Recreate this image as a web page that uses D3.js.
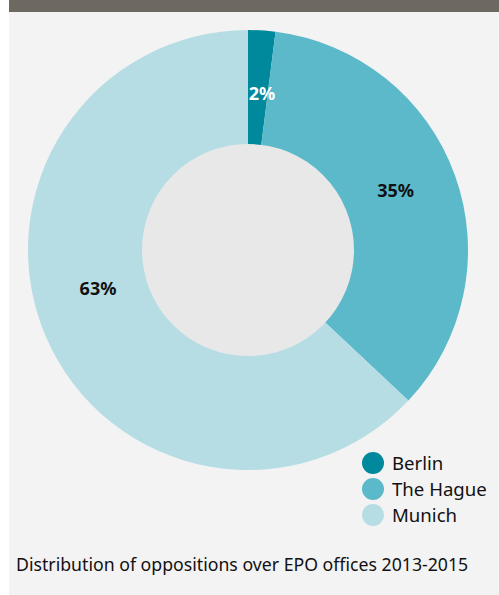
<!DOCTYPE html>
<html>
<head>
<meta charset="utf-8">
<script src="https://cdn.jsdelivr.net/npm/d3@7"></script>
<style>
  body { margin: 0; background: #ffffff; }
  svg { display: block; font-family: "Noto Sans", "Open Sans", sans-serif; }
</style>
</head>
<body>
<div id="chart"></div>
<script>
// data
var offices = ["Berlin", "The Hague", "Munich"];
var shares = [2, 35, 63];
var colors = ["#00899c", "#5bb9ca", "#b7dde4"];
var labelColors = ["#ffffff", "#111111", "#111111"];
var caption = "Distribution of oppositions over EPO offices 2013-2015";

var config = {
  "width": 499,
  "height": 595,
  "cx": 248,
  "cy": 250,
  "outer": 220,
  "inner": 106,
  "labelRadius": 158
};

// small nudges so the slice labels sit where the original put them
var labelNudge = [[4, 1], [-1, -6], [-5, -24]];

window.addEventListener("DOMContentLoaded", main);

function main() {
  var svg = d3.select("#chart")
    .append("svg")
    .attr("width", config.width)
    .attr("height", config.height);

  // panel background + top bar
  svg.append("rect")
    .attr("x", 9).attr("y", 0)
    .attr("width", config.width - 9).attr("height", config.height)
    .style("fill", "#f3f3f3");
  svg.append("rect")
    .attr("x", 9).attr("y", 0)
    .attr("width", config.width - 9).attr("height", 12)
    .style("fill", "#6d6961");

  var data = offices.map(function(o, i) {
    return {"office": o, "share": shares[i], "color": colors[i], "label": labelColors[i], "nudge": labelNudge[i]};
  });

  var pie = d3.pie()
    .sort(null)
    .value(function(d) { return d.share; });

  var arc = d3.arc()
    .innerRadius(0)
    .outerRadius(config.outer);

  var labelArc = d3.arc()
    .innerRadius(config.labelRadius)
    .outerRadius(config.labelRadius);

  var g = svg.append("g")
    .attr("transform", "translate(" + config.cx + "," + config.cy + ")");

  var arcs = pie(data);

  g.selectAll("path")
    .data(arcs)
    .enter()
    .append("path")
    .attr("d", arc)
    .style("fill", function(d) { return d.data.color; });

  // donut hole
  g.append("circle")
    .attr("r", config.inner)
    .style("fill", "#e8e8e8");

  g.selectAll(".slice-label")
    .data(arcs)
    .enter()
    .append("text")
    .attr("class", "slice-label")
    .attr("transform", function(d) {
      var c = labelArc.centroid(d);
      return "translate(" + (c[0] + d.data.nudge[0]) + "," + (c[1] + d.data.nudge[1]) + ")";
    })
    .attr("text-anchor", "middle")
    .attr("dy", ".35em")
    .style("font-size", "18px")
    .style("font-weight", "bold")
    .style("fill", function(d) { return d.data.label; })
    .text(function(d) { return d.data.share + "%"; });

  // legend
  var legend = svg.append("g")
    .attr("transform", "translate(373,463)");

  var items = legend.selectAll("g")
    .data(data)
    .enter()
    .append("g")
    .attr("transform", function(d, i) { return "translate(0," + (i * 26) + ")"; });

  items.append("circle")
    .attr("r", 11)
    .style("fill", function(d) { return d.color; });

  items.append("text")
    .attr("x", 19)
    .attr("dy", ".36em")
    .style("font-size", "18.6px")
    .style("fill", "#111111")
    .text(function(d) { return d.office; });

  svg.append("text")
    .attr("x", 16)
    .attr("y", 571)
    .style("font-size", "17.7px")
    .style("fill", "#111111")
    .text(caption);
}
</script>
</body>
</html>
